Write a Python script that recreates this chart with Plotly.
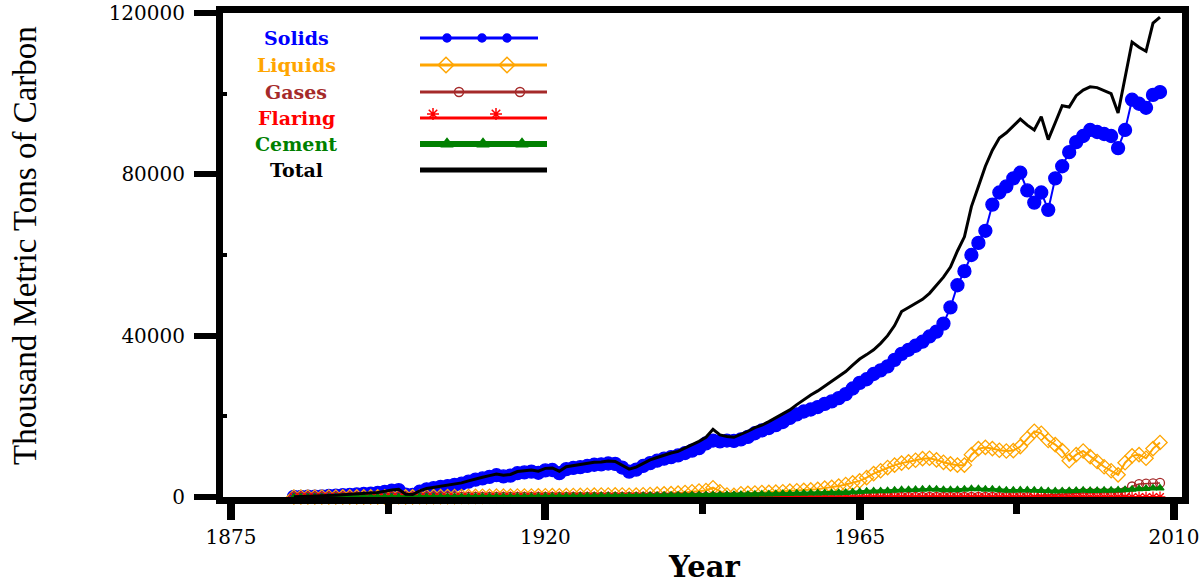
import plotly.graph_objects as go

years = list(range(1884, 2009))

solids = [
    30, 50, 60, 80, 150, 250, 350, 450, 550, 650,
    750, 850, 1000, 1250, 1550, 1700, 600, 500, 1300, 1900,
    2200, 2500, 2700, 3000, 3300, 3800, 4300, 4600, 5000, 5400,
    5100, 5300, 5900, 6100, 6300, 6000, 6600, 6700, 5900, 6900,
    7200, 7400, 7700, 8000, 8100, 8300, 8200, 7300, 6300, 6800,
    7700, 8400, 9000, 9500, 9900, 10300, 10900, 11500, 12100, 13300,
    14000, 13800, 14000, 13900, 14300, 14900, 15800, 16500, 17100, 17800,
    18600, 19600, 20500, 21200, 21700, 22300, 23100, 23700, 24500, 25500,
    26900, 28300, 29200, 30500, 31400, 32400, 34000, 35500, 36500, 37500,
    38500, 39800, 41000, 43000, 47000, 52500, 56000, 60000, 63000, 66000,
    72500, 75500, 77000, 79000, 80400, 76000, 73000, 75500, 71200, 79000,
    82000, 85500, 88000, 89500, 91000, 90500, 90000, 89500, 86500, 91000,
    98500, 97500, 96500, 99700, 100400,
]

liquids = [
    0, 0, 0, 0, 10, 10, 10, 20, 20, 20,
    20, 30, 30, 40, 40, 50, 40, 40, 60, 70,
    80, 90, 100, 110, 120, 130, 150, 170, 190, 210,
    200, 220, 240, 250, 260, 280, 320, 330, 300, 340,
    370, 400, 420, 450, 480, 500, 520, 480, 430, 470,
    550, 620, 700, 780, 850, 950, 1100, 1300, 1500, 1600,
    2300, 1300, 500, 400, 800, 900, 1000, 1100, 1150, 1200,
    1300, 1450, 1550, 1650, 1750, 1900, 2200, 2400, 2700, 3100,
    3500, 4000, 4800, 5800, 6500, 7300, 7900, 8400, 8700, 9100,
    9500, 9600, 9200, 8600, 8200, 7900, 7900, 10500, 12000, 12300,
    12000, 11600, 11400, 11500, 12500, 14500, 16300, 15800, 14000, 13000,
    11500, 9000, 10500, 11400, 10000, 8800, 7500, 6500, 5500, 8500,
    10200, 10500, 9600, 12000, 13500,
]

gases = [0] * 106 + [
    300, 400, 500, 700, 800, 900, 900, 1000, 1000, 1000,
    1000, 1000, 1100, 1300, 2600, 3200, 3300, 3400, 3500,
]

flaring = [0] * 125

cement = [
    0, 0, 0, 0, 0, 0, 0, 0, 0, 0,
    0, 0, 0, 0, 0, 0, 0, 0, 20, 30,
    40, 40, 50, 50, 60, 60, 70, 80, 90, 100,
    90, 90, 100, 110, 110, 120, 140, 150, 150, 170,
    190, 210, 230, 250, 270, 290, 300, 260, 220, 250,
    290, 330, 370, 400, 420, 440, 460, 480, 480, 470,
    500, 500, 530, 560, 600, 630, 660, 700, 740, 780,
    820, 860, 900, 930, 960, 980, 1000, 1000, 1050, 1100,
    1200, 1300, 1400, 1450, 1500, 1550, 1650, 1750, 1800, 1850,
    1900, 1950, 1900, 1800, 1750, 1800, 1900, 2000, 2000, 1900,
    1900, 1800, 1650, 1650, 1700, 1700, 1650, 1600, 1500, 1450,
    1500, 1550, 1600, 1650, 1600, 1600, 1650, 1650, 1700, 1800,
    1900, 2000, 2100, 2200, 2200,
]

total = [
    50, 100, 120, 150, 250, 350, 450, 550, 650, 750,
    850, 950, 1100, 1400, 1750, 1900, 700, 600, 1500, 2100,
    2400, 2700, 2900, 3200, 3500, 4000, 4500, 4900, 5300, 5700,
    5400, 5600, 6300, 6500, 6700, 6400, 7100, 7200, 6400, 7500,
    7800, 8000, 8300, 8600, 8700, 8900, 8800, 7900, 6900, 7400,
    8400, 9200, 9800, 10400, 10900, 11300, 12100, 12900, 13800, 14800,
    16800, 15400, 15000, 14800, 15500, 16300, 17200, 17800, 18700, 19600,
    20500, 21600, 22900, 24200, 25300, 26300, 27500, 28600, 29800, 31100,
    32700, 34200, 35300, 36500, 38100, 40000, 42500, 46000, 47000, 48000,
    49000, 50500, 52500, 54500, 57000, 61000, 64500, 72000, 77000, 82000,
    86000, 89000, 90300, 92000, 93700, 92200, 91000, 94300, 88600, 92800,
    97000, 96700, 99500, 100900, 101700, 101500, 100800, 100000, 95200, 104000,
    112800, 111500, 110500, 117500, 119000,
]

x_ticks = [1875, 1920, 1965, 2010]
x_minor = [1897.5, 1942.5, 1987.5]
y_ticks = [0, 40000, 80000, 120000]
y_tick_text = ["0", "40000", "80000", "120000"]
y_minor = [20000, 60000, 100000]

names = ["Solids", "Liquids", "Gases", "Flaring", "Cement", "Total"]
series = [solids, liquids, gases, flaring, cement, total]
colors = ["#0000FF", "#FFA500", "#A52A2A", "#FF0000", "#008000", "#000000"]
symbols = ["circle", "diamond-open", "circle-open", "asterisk-open", "triangle-up", None]
msizes = [13, 11, 9, 9, 7, 0]
lwidths = [2, 2, 1.5, 2, 3, 3]
leg_msizes = [8, 12, 9, 10, 11, 0]

SERIF = "DejaVu Serif"

fig = go.Figure()
for name, vals, col, sym, ms, lw in zip(names, series, colors, symbols, msizes, lwidths):
    if sym is None:
        fig.add_trace(go.Scatter(x=years, y=vals, mode="lines", name=name,
                                 line=dict(color=col, width=lw), showlegend=False))
    else:
        fig.add_trace(go.Scatter(x=years, y=vals, mode="lines+markers", name=name,
                                 line=dict(color=col, width=lw),
                                 marker=dict(symbol=sym, size=ms, color=col,
                                             line=dict(color=col, width=1.3)),
                                 cliponaxis=False, showlegend=False))

# custom legend (label left, sample line right) drawn in an overlay pixel-like frame
leg_rows_y = [38, 65, 92, 118, 144, 170]
leg_marker_x = [[447, 482, 507], [446, 507], [459, 520], [433, 496], [447, 483, 522], []]
leg_line_x = [[420, 538], [420, 547], [420, 547], [420, 547], [420, 547], [420, 547]]
leg_line_w = [3, 3, 3, 3, 6, 5]
for i, name in enumerate(names):
    yy = leg_rows_y[i]
    fig.add_trace(go.Scatter(x=leg_line_x[i], y=[yy, yy], mode="lines",
                             line=dict(color=colors[i], width=leg_line_w[i]),
                             xaxis="x2", yaxis="y2", showlegend=False, hoverinfo="skip"))
    if leg_marker_x[i]:
        my = yy - 4 if name == "Flaring" else yy
        fig.add_trace(go.Scatter(x=leg_marker_x[i], y=[my] * len(leg_marker_x[i]), mode="markers",
                                 marker=dict(symbol=symbols[i], size=leg_msizes[i], color=colors[i],
                                             line=dict(color=colors[i], width=1.5)),
                                 xaxis="x2", yaxis="y2", showlegend=False, hoverinfo="skip"))
    fig.add_annotation(x=296, y=yy, xref="x2", yref="y2", text="<b>%s</b>" % name,
                       showarrow=False, font=dict(family=SERIF, size=19, color=colors[i]),
                       xanchor="center", yanchor="middle")

fig.add_annotation(x=(25 - 223) / 959, y=(497 - 246) / 484, xref="paper", yref="paper",
                   text="Thousand Metric Tons of Carbon", textangle=-90, showarrow=False,
                   font=dict(family="Liberation Serif", size=33, color="black"),
                   xanchor="center", yanchor="middle")
fig.add_annotation(x=(704 - 223) / 959, y=(497 - 567) / 484, xref="paper", yref="paper",
                   text="<b>Year</b>", showarrow=False,
                   font=dict(family=SERIF, size=29, color="black"),
                   xanchor="center", yanchor="middle")

fig.update_layout(
    width=1200, height=585,
    margin=dict(l=223, r=18, t=13, b=88),
    paper_bgcolor="white", plot_bgcolor="white",
    showlegend=False,
    xaxis=dict(range=[1873.85, 2011.15], tickvals=x_ticks, ticks="outside", ticklen=16,
               tickwidth=8, tickcolor="black", showline=True, linewidth=7, linecolor="black",
               mirror=True, showgrid=False, zeroline=False, automargin=False,
               tickfont=dict(family=SERIF, size=20, color="black"),
               minor=dict(tickvals=x_minor, ticks="outside", ticklen=10, tickwidth=7,
                          tickcolor="black", showgrid=False)),
    yaxis=dict(range=[0, 120000], tickvals=y_ticks, ticktext=y_tick_text, ticks="outside",
               ticklen=22, tickwidth=6, tickcolor="black", showline=True, linewidth=7,
               linecolor="black", mirror=True, showgrid=False, zeroline=False, automargin=False,
               ticklabelstandoff=5,
               tickfont=dict(family=SERIF, size=20, color="black"),
               minor=dict(tickvals=y_minor, ticks="inside", ticklen=4, tickwidth=4,
                          tickcolor="black", showgrid=False)),
    xaxis2=dict(range=[223, 1182], overlaying="x", visible=False, anchor="y2", automargin=False),
    yaxis2=dict(range=[497, 13], overlaying="y", visible=False, anchor="x2", automargin=False),
)

fig.write_html("out.html", config={"displayModeBar": False},
               post_script="document.body.style.margin='0';document.body.style.overflow='hidden';")
